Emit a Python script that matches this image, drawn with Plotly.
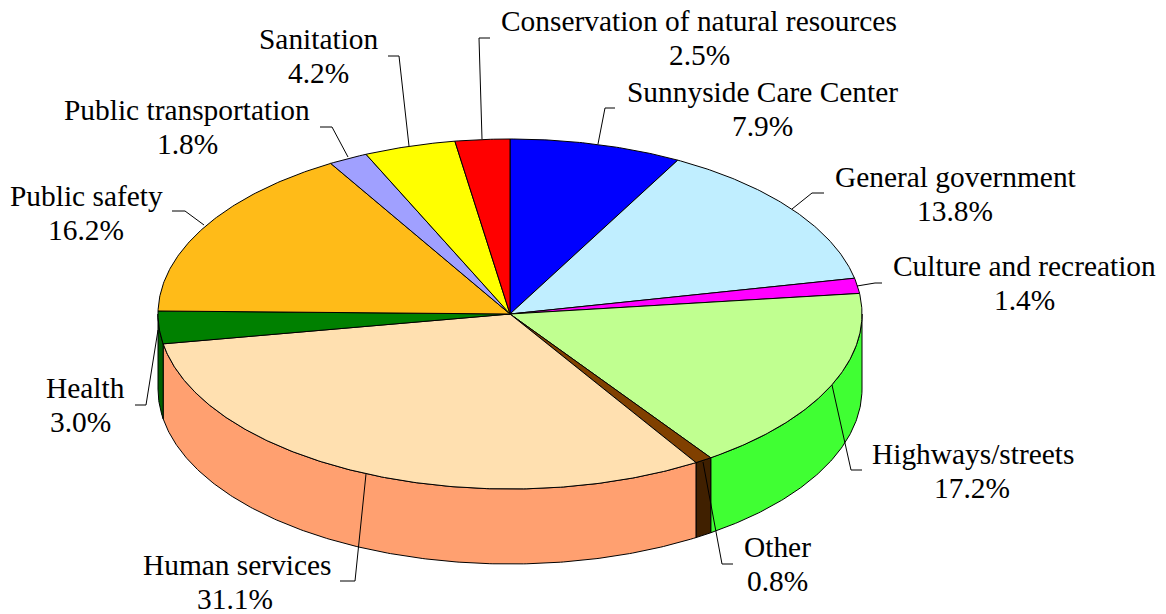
import numpy as np
import plotly.graph_objects as go

categories = ["Sunnyside Care Center", "General government", "Culture and recreation",
              "Highways/streets", "Other", "Human services", "Health", "Public safety",
              "Public transportation", "Sanitation", "Conservation of natural resources"]
values = [7.9, 13.8, 1.4, 17.2, 0.8, 31.1, 3.0, 16.2, 1.8, 4.2, 2.5]
top_colors = ["#0000FF", "#C0EEFF", "#FF00FF", "#C0FF90", "#804000", "#FFE0B0",
              "#008000", "#FFBB18", "#A0A0FF", "#FFFF00", "#FF0000"]
side_colors = ["#000080", "#6090A0", "#800080", "#40FF33", "#402000", "#FFA070",
               "#006000", "#806000", "#5050A0", "#808000", "#800000"]
label_pos = [(762, 109), (955, 194), (1024, 283), (973, 471), (777, 564), (237, 582),
             (85, 405), (86, 213), (187, 127), (318, 56), (699, 38)]
value_dx = [0, 0, 0, -1, 0, -2, -5, 0, 0, 0, 0]
leaders = [[(598, 144), (605, 108), (615, 108)],
           [(792, 209), (812, 193), (824, 193)],
           [(857, 286), (875, 283), (882, 283)],
           [(832, 385), (851, 470), (862, 470)],
           [(703, 462), (722, 564), (733, 564)],
           [(366, 474), (355, 581), (340, 581)],
           [(158, 330), (146, 405), (135, 405)],
           [(204, 225), (185, 211), (172, 211)],
           [(348, 157), (332, 127), (320, 127)],
           [(409, 146), (399, 56), (388, 56)],
           [(482, 139), (479, 38), (490, 38)]]

CX, CY, RX, RY, DEPTH = 510, 314, 352, 175, 75
LINE_GAP = 17


def rim(a, b, dy=0.0):
    t = np.radians(np.linspace(a, b, max(int(abs(b - a) * 2), 2)))
    return CX + RX * np.sin(t), CY - RY * np.cos(t) + dy


edges = np.concatenate([[0], np.cumsum(values)]) / sum(values) * 360
fig = go.Figure()
line = dict(color="black", width=1)


def poly(x, y, color):
    fig.add_trace(go.Scatter(x=x, y=y, mode="lines", fill="toself", fillcolor=color,
                             line=line, hoverinfo="skip", showlegend=False))


# side walls
for i in range(len(values)):
    a, b = max(edges[i], 90), min(edges[i + 1], 270)
    if b > a:
        xt, yt = rim(a, b)
        xb, yb = rim(a, b, DEPTH)
        poly(np.r_[xt, xb[::-1], xt[0]], np.r_[yt, yb[::-1], yt[0]], side_colors[i])
# top slices
for i in range(len(values)):
    xt, yt = rim(edges[i], edges[i + 1])
    poly(np.r_[CX, xt, CX], np.r_[CY, yt, CY], top_colors[i])
# leader lines
for pts in leaders:
    fig.add_trace(go.Scatter(x=[p[0] for p in pts], y=[p[1] for p in pts], mode="lines",
                             line=line, hoverinfo="skip", showlegend=False))
font = dict(family="Liberation Serif", size=29.4, color="black")
for name, v, (x, y), dx in zip(categories, values, label_pos, value_dx):
    fig.add_annotation(x=x, y=y - LINE_GAP, text=name, showarrow=False,
                       xanchor="center", yanchor="middle", font=font)
    fig.add_annotation(x=x + dx, y=y + LINE_GAP, text=f"{v:.1f}%", showarrow=False,
                       xanchor="center", yanchor="middle", font=font)

fig.update_xaxes(visible=False, range=[0, 1166], fixedrange=True)
fig.update_yaxes(visible=False, range=[614, 0], fixedrange=True)
fig.update_layout(width=1166, height=614, margin=dict(l=0, r=0, t=0, b=0),
                  paper_bgcolor="white", plot_bgcolor="white", showlegend=False)
fig.write_html("out.html", config=dict(displayModeBar=False),
               post_script="document.body.style.margin='0';")
